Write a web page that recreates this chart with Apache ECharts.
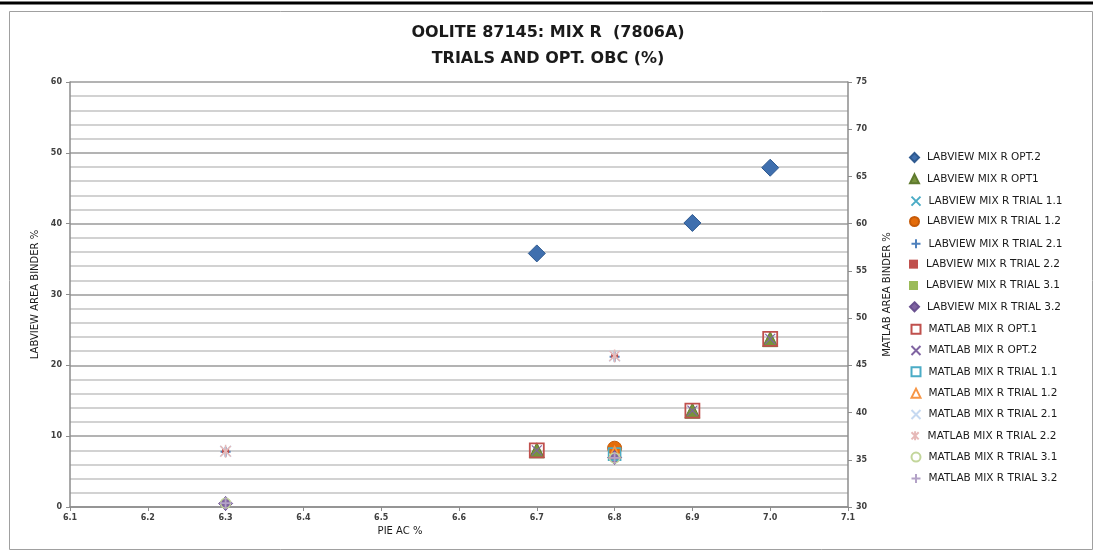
<!DOCTYPE html>
<html>
<head>
<meta charset="utf-8">
<script src="https://cdn.jsdelivr.net/npm/echarts@6/dist/echarts.min.js"></script>
<style>
html, body { margin: 0; padding: 0; background: #ffffff; }
#chart { width: 1093px; height: 557px; }
</style>
</head>
<body>
<div id="chart"></div>
<script>
// Axis ranges and tick labels
const xRange = { min: 6.1, max: 7.1, step: 0.1 };
const leftRange = { min: 0, max: 60, step: 10 };
const rightRange = { min: 30, max: 75, step: 5 };

// LABVIEW series: [PIE AC %, LABVIEW AREA BINDER %]
const labviewOpt2    = [[6.7, 35.8], [6.9, 40.1], [7.0, 47.9]];
const labviewOpt1    = [[6.7, 8.0], [6.9, 13.6], [7.0, 23.7]];
const labviewTrial11 = [[6.8, 7.6]];
const labviewTrial12 = [[6.8, 8.3]];
const labviewTrial21 = [[6.3, 7.8], [6.8, 21.2]];
const labviewTrial22 = [[6.3, 7.9], [6.8, 21.3]];
const labviewTrial31 = [[6.3, 0.5], [6.8, 7.0]];
const labviewTrial32 = [[6.3, 0.5], [6.8, 7.0]];

// MATLAB series: [PIE AC %, MATLAB AREA BINDER %]
const matlabOpt1    = [[6.7, 36.0], [6.9, 40.2], [7.0, 47.8]];
const matlabOpt2    = [[6.7, 36.0], [6.9, 40.2], [7.0, 47.8]];
const matlabTrial11 = [[6.8, 35.6]];
const matlabTrial12 = [[6.8, 35.8]];
const matlabTrial21 = [[6.3, 35.9], [6.8, 46.0]];
const matlabTrial22 = [[6.3, 35.9], [6.8, 46.0]];
const matlabTrial31 = [[6.3, 30.4], [6.8, 35.2]];
const matlabTrial32 = [[6.3, 30.4], [6.8, 35.2]];

// Stroke-only marker shapes
const CROSS = 'path://M0,0L10,10M10,0L0,10';
const PLUS = 'path://M5,0L5,10M0,5L10,5';
const STAR = 'path://M1,1L9,9M9,1L1,9M5,0L5,10';

function filled(name, data, axis, symbol, size, color, border) {
  return {
    name, type: 'scatter', data, yAxisIndex: axis, symbol, symbolSize: size,
    symbolKeepAspect: true,
    itemStyle: { color, borderColor: border || color, borderWidth: border ? 1 : 0, opacity: 1 },
    emphasis: { disabled: true }
  };
}
function stroked(name, data, axis, symbol, size, color, width) {
  return {
    name, type: 'scatter', data, yAxisIndex: axis, symbol, symbolSize: size,
    symbolKeepAspect: true,
    itemStyle: { color: 'none', borderColor: color, borderWidth: width || 1.5, opacity: 1 },
    emphasis: { disabled: true }
  };
}

const series = [
  filled('LABVIEW MIX R OPT.2', labviewOpt2, 0, 'diamond', 17, '#3f6fae', '#2f5a90'),
  filled('LABVIEW MIX R OPT1', labviewOpt1, 0, 'triangle', 15, '#77933c', '#5f7a2e'),
  stroked('LABVIEW MIX R TRIAL 1.1', labviewTrial11, 0, CROSS, 8, '#4bacc6', 2),
  filled('LABVIEW MIX R TRIAL 1.2', labviewTrial12, 0, 'circle', 14, '#e46c0a', '#c65a08'),
  stroked('LABVIEW MIX R TRIAL 2.1', labviewTrial21, 0, PLUS, 10, '#4f81bd', 2),
  filled('LABVIEW MIX R TRIAL 2.2', labviewTrial22, 0, 'rect', [7, 4], '#c0504d'),
  filled('LABVIEW MIX R TRIAL 3.1', labviewTrial31, 0, 'rect', [10, 2], '#9bbb59'),
  filled('LABVIEW MIX R TRIAL 3.2', labviewTrial32, 0, 'diamond', 14, '#8064a2', '#6a5190'),
  stroked('MATLAB MIX R OPT.1', matlabOpt1, 1, 'rect', 14, '#c0504d', 1.8),
  stroked('MATLAB MIX R OPT.2', matlabOpt2, 1, CROSS, 10, '#8064a2', 1.2),
  stroked('MATLAB MIX R TRIAL 1.1', matlabTrial11, 1, 'rect', 12, '#4bacc6', 1.6),
  stroked('MATLAB MIX R TRIAL 1.2', matlabTrial12, 1, 'triangle', 11, '#f79646', 1.6),
  stroked('MATLAB MIX R TRIAL 2.1', matlabTrial21, 1, CROSS, 11, '#c6d9f1', 1.5),
  stroked('MATLAB MIX R TRIAL 2.2', matlabTrial22, 1, STAR, 13, '#e6b9b8', 1.5),
  stroked('MATLAB MIX R TRIAL 3.1', matlabTrial31, 1, 'circle', 10, '#c3d69b', 1.5),
  stroked('MATLAB MIX R TRIAL 3.2', matlabTrial32, 1, PLUS, 12, '#b3a2c7', 1.8)
];

const tickFont = { fontFamily: 'DejaVu Sans', fontSize: 8, fontWeight: 'bold', color: '#404040' };
const nameFont = { fontFamily: 'DejaVu Sans', fontSize: 10, color: '#1a1a1a' };

// One legend block per entry keeps the rows evenly spaced
const legendRowTop = 151.5, legendRowStep = 21.33;
const legends = series.map((s, i) => ({
  orient: 'vertical', left: 909, top: legendRowTop + i * legendRowStep,
  itemWidth: 9, itemHeight: 9, padding: 0,
  textStyle: { fontFamily: 'DejaVu Sans', fontSize: 10.5, color: '#1a1a1a', lineHeight: 12, padding: [0, 0, 0, 3] },
  data: [s.name]
}));

const chart = echarts.init(document.getElementById('chart'), null, { renderer: 'canvas' });
chart.setOption({
  animation: false,
  backgroundColor: '#ffffff',
  title: {
    text: 'OOLITE 87145: MIX R  (7806A)\nTRIALS AND OPT. OBC (%)',
    left: 543, top: 15, textAlign: 'center',
    textStyle: { fontFamily: 'DejaVu Sans', fontSize: 16, fontWeight: 'bold', color: '#1a1a1a', lineHeight: 26 }
  },
  graphic: [
    { type: 'line', shape: { x1: 0, y1: 3, x2: 1093, y2: 3 }, style: { stroke: '#000000', lineWidth: 3 } },
    { type: 'rect', shape: { x: 9.5, y: 11.5, width: 1083, height: 538 }, style: { fill: 'none', stroke: '#a0a0a0', lineWidth: 1 } }
  ],
  legend: legends,
  grid: { left: 70, right: 245, top: 82, bottom: 50, containLabel: false },
  xAxis: {
    type: 'value', min: xRange.min, max: xRange.max, interval: xRange.step,
    name: 'PIE AC %', nameLocation: 'middle', nameGap: 16,
    nameTextStyle: Object.assign({}, nameFont, { padding: [0, 118, 0, 0] }),
    axisLine: { show: true, lineStyle: { color: '#8c8c8c', width: 1.5 } },
    axisTick: { show: true, inside: false, length: 4, lineStyle: { color: '#8c8c8c' } },
    axisLabel: Object.assign({}, tickFont, { margin: 7, formatter: v => v.toFixed(1) }),
    splitLine: { show: false }
  },
  yAxis: [
    {
      type: 'value', position: 'left', min: leftRange.min, max: leftRange.max, interval: leftRange.step,
      name: 'LABVIEW AREA BINDER %', nameLocation: 'middle', nameGap: 30, nameTextStyle: nameFont,
      axisLine: { show: true, lineStyle: { color: '#8c8c8c', width: 1.5 } },
      axisTick: { show: true, length: 4, lineStyle: { color: '#8c8c8c' } },
      axisLabel: Object.assign({}, tickFont, { margin: 8 }),
      splitLine: { show: true, lineStyle: { color: '#9a9a9a', width: 1.5 } },
      minorTick: { show: false, splitNumber: 5 },
      minorSplitLine: { show: true, lineStyle: { color: '#c4c4c4', width: 1.5 } }
    },
    {
      type: 'value', position: 'right', min: rightRange.min, max: rightRange.max, interval: rightRange.step,
      name: 'MATLAB AREA BINDER %', nameLocation: 'middle', nameGap: 34, nameTextStyle: nameFont,
      axisLine: { show: true, lineStyle: { color: '#8c8c8c', width: 1.5 } },
      axisTick: { show: true, length: 4, lineStyle: { color: '#8c8c8c' } },
      axisLabel: Object.assign({}, tickFont, { margin: 8 }),
      splitLine: { show: false }
    }
  ],
  series
});
</script>
</body>
</html>
